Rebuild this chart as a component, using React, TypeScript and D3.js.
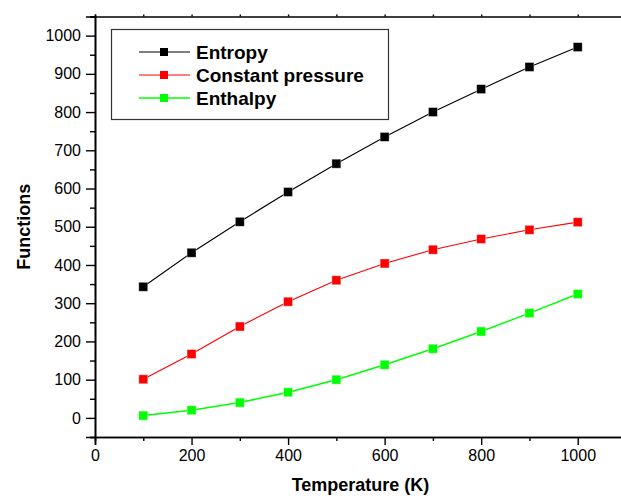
import { useRef, useEffect } from "react";
import * as d3 from "d3";

const temps = [100, 200, 300, 400, 500, 600, 700, 800, 900, 1000];
const entropy = [343, 432, 513, 591, 665, 735, 800, 860, 918, 970];
const constPressure = [101, 167, 239, 304, 360, 404, 440, 468, 492, 512];
const enthalpy = [6, 20, 40, 67, 100, 139, 181, 226, 274, 324];
const seriesNames = ["Entropy", "Constant pressure", "Enthalpy"];
const seriesColors = ["#000000", "#ff0000", "#00ff00"];
const xTicks = [0, 200, 400, 600, 800, 1000];
const yTicks = [0, 100, 200, 300, 400, 500, 600, 700, 800, 900, 1000];

const FONT = "'Liberation Sans', Arial, sans-serif";

const App = () => {
  const svgRef = useRef<SVGSVGElement>(null);

  useEffect(() => {
    const svg = d3.select(svgRef.current);
    svg.selectAll("*").remove();

    const left = 95;
    const right = 626;
    const top = 16.5;
    const bottom = 437;

    const x = d3.scaleLinear().domain([0, 1100]).range([left, right]);
    const y = d3.scaleLinear().domain([-50, 1050]).range([bottom, top]);

    const minorX = d3.range(100, 1100, 200);
    const minorY = d3.range(-50, 1100, 100);

    // bottom axis
    const gx = svg.append("g").attr("transform", `translate(0,${bottom})`);
    gx.call(d3.axisBottom(x).tickValues(xTicks).tickSize(8).tickPadding(5).tickFormat(d3.format("d")));
    gx.append("g").call(d3.axisBottom(x).tickValues(minorX).tickSize(4).tickFormat(() => ""));

    // left axis
    const gy = svg.append("g").attr("transform", `translate(${left},0)`);
    gy.call(d3.axisLeft(y).tickValues(yTicks).tickSize(9).tickPadding(5).tickFormat(d3.format("d")));
    gy.append("g").call(d3.axisLeft(y).tickValues(minorY).tickSize(5).tickFormat(() => ""));

    // top axis
    const gt = svg.append("g").attr("transform", `translate(0,${top})`);
    gt.call(d3.axisTop(x).tickValues(d3.range(0, 1100, 100)).tickSize(2).tickFormat(() => ""));

    svg.selectAll(".domain").attr("stroke", "#000").attr("stroke-width", 1.6);
    svg.selectAll(".tick line").attr("stroke", "#000").attr("stroke-width", 1.4);
    svg
      .selectAll(".tick text")
      .attr("font-family", FONT)
      .attr("font-size", 16)
      .attr("fill", "#000");

    // axis titles
    svg
      .append("text")
      .attr("x", (left + right) / 2)
      .attr("y", 491)
      .attr("text-anchor", "middle")
      .attr("font-family", FONT)
      .attr("font-weight", "bold")
      .attr("font-size", 18)
      .text("Temperature (K)");

    svg
      .append("text")
      .attr("transform", `translate(30,${(top + bottom) / 2}) rotate(-90)`)
      .attr("text-anchor", "middle")
      .attr("font-family", FONT)
      .attr("font-weight", "bold")
      .attr("font-size", 18)
      .text("Functions");

    // series
    const allSeries = [entropy, constPressure, enthalpy];
    const line = d3
      .line<number>()
      .x((d, i) => x(temps[i]))
      .y((d) => y(d));

    allSeries.forEach((vals, si) => {
      svg
        .append("path")
        .datum(vals)
        .attr("d", line)
        .attr("fill", "none")
        .attr("stroke", seriesColors[si])
        .attr("stroke-width", si === 2 ? 1.5 : 1.1);

      svg
        .selectAll(`.pt${si}`)
        .data(vals)
        .enter()
        .append("rect")
        .attr("x", (d, i) => x(temps[i]) - 4.5)
        .attr("y", (d) => y(d) - 4.5)
        .attr("width", 9)
        .attr("height", 9)
        .attr("fill", seriesColors[si])
        .attr("stroke", "#fff")
        .attr("stroke-opacity", 0.5)
        .attr("stroke-width", 0.8);
    });

    // legend
    const lg = svg.append("g");
    lg.append("rect")
      .attr("x", 111.5)
      .attr("y", 29.5)
      .attr("width", 277)
      .attr("height", 90)
      .attr("fill", "#fff")
      .attr("stroke", "#333")
      .attr("stroke-width", 1.2);

    seriesNames.forEach((name, i) => {
      const ly = 52 + i * 23;
      lg.append("line")
        .attr("x1", 139)
        .attr("x2", 190)
        .attr("y1", ly)
        .attr("y2", ly)
        .attr("stroke", seriesColors[i])
        .attr("stroke-width", i === 2 ? 1.5 : 1.1);
      lg.append("rect")
        .attr("x", 164 - 4)
        .attr("y", ly - 4)
        .attr("width", 8)
        .attr("height", 8)
        .attr("fill", seriesColors[i]);
      lg.append("text")
        .attr("x", 196)
        .attr("y", ly + 7)
        .attr("font-family", FONT)
        .attr("font-weight", "bold")
        .attr("font-size", 19)
        .attr("fill", "#000")
        .text(name);
    });
  }, []);

  return (
    <div style={{ position: "absolute", left: 0, top: 0, background: "#fff" }}>
      <svg ref={svgRef} width="621" height="496" style={{ display: "block" }}></svg>
    </div>
  );
};

export default App;
